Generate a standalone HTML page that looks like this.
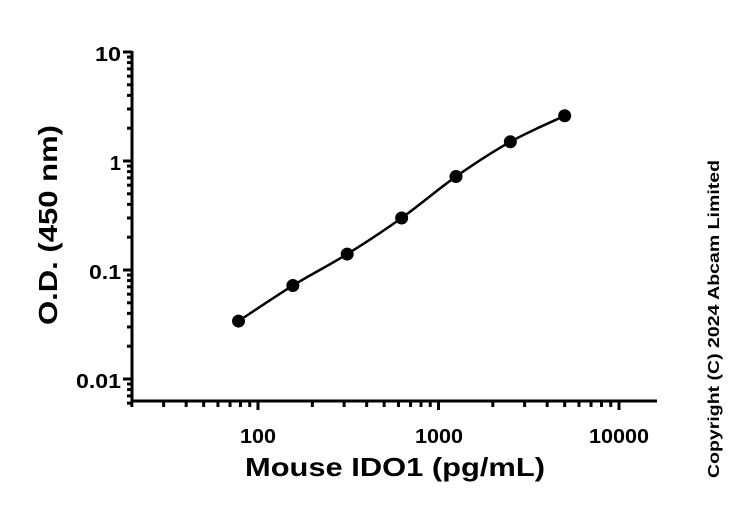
<!DOCTYPE html>
<html><head><style>body{margin:0;background:#fff}svg{display:block}text{font-family:"Liberation Sans",Arial,sans-serif;font-weight:bold;fill:#000}</style></head>
<body>
<svg width="750" height="506" viewBox="0 0 750 506" xmlns="http://www.w3.org/2000/svg">
<g stroke="#000" stroke-width="3" fill="none" id="ax"></g>
<path id="curve" fill="none" stroke="#000" stroke-width="2.5"/>
<g id="pts"></g>
<g font-size="20" text-anchor="end">
<text x="121" y="61" textLength="26" lengthAdjust="spacingAndGlyphs">10</text><text x="121" y="170">1</text><text x="121" y="279" textLength="32" lengthAdjust="spacingAndGlyphs">0.1</text><text x="121" y="388" textLength="45" lengthAdjust="spacingAndGlyphs">0.01</text>
</g>
<g font-size="20" text-anchor="middle">
<text x="258" y="443" textLength="36" lengthAdjust="spacingAndGlyphs">100</text><text x="439" y="443" textLength="48" lengthAdjust="spacingAndGlyphs">1000</text><text x="619" y="443" textLength="60" lengthAdjust="spacingAndGlyphs">10000</text>
</g>
<text x="395" y="476" font-size="26" text-anchor="middle" textLength="300" lengthAdjust="spacingAndGlyphs">Mouse IDO1 (pg/mL)</text>
<text transform="translate(57,225) rotate(-90)" font-size="26" text-anchor="middle" textLength="200" lengthAdjust="spacingAndGlyphs">O.D. (450 nm)</text>
<text transform="translate(719,319) rotate(-90)" font-size="16" text-anchor="middle" textLength="318" lengthAdjust="spacingAndGlyphs">Copyright (C) 2024 Abcam Limited</text>
</svg>
<script>
var ns="http://www.w3.org/2000/svg",ax=document.getElementById('ax');
function ln(x1,y1,x2,y2,w){var l=document.createElementNS(ns,'line');l.setAttribute('x1',x1);l.setAttribute('y1',y1);l.setAttribute('x2',x2);l.setAttribute('y2',y2);if(w)l.setAttribute('stroke-width',w);ax.appendChild(l);}
ln(132,51,132,402);ln(131,401,657,401);
function X(c){return 258+180.5*(Math.log10(c)-2);}
function Y(v){return 161-109*Math.log10(v);}
for(var d=1;d<=4;d++)for(var k=1;k<10;k++){var c=k*Math.pow(10,d);if(c<20||c>16000)continue;var x=X(c);ln(x,401,x,k==1?410:407,3);}
for(var d=-3;d<=1;d++)for(var k=1;k<10;k++){var v=k*Math.pow(10,d);if(v<0.006||v>10.01)continue;var y=Y(v);ln(132,y,k==1?123:127,y,3);}
var data=[[78,0.034],[156,0.072],[312,0.14],[625,0.30],[1250,0.72],[2500,1.5],[5000,2.6]];
var p=data.map(function(a){return [X(a[0]),Y(a[1])];});
var s="M"+p[0][0]+","+p[0][1];
for(var i=0;i<p.length-1;i++){var p0=p[i-1]||p[i],p1=p[i],p2=p[i+1],p3=p[i+2]||p2;
s+=" C"+(p1[0]+(p2[0]-p0[0])/6)+","+(p1[1]+(p2[1]-p0[1])/6)+" "+(p2[0]-(p3[0]-p1[0])/6)+","+(p2[1]-(p3[1]-p1[1])/6)+" "+p2[0]+","+p2[1];}
document.getElementById('curve').setAttribute('d',s);
var g=document.getElementById('pts');
p.forEach(function(q){var c=document.createElementNS(ns,'circle');c.setAttribute('cx',q[0]);c.setAttribute('cy',q[1]);c.setAttribute('r',6.5);c.setAttribute('fill','#000');g.appendChild(c);});
</script>
</body></html>
